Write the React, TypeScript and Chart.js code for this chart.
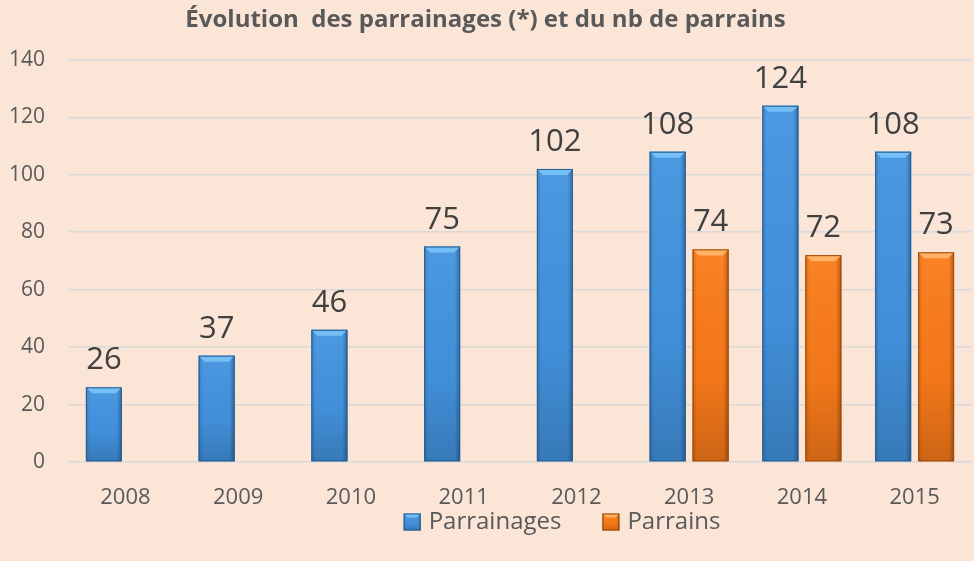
import React, { useEffect, useRef } from "react";
import { Chart, registerables } from "chart.js";

Chart.register(...registerables);

const years = ["2008", "2009", "2010", "2011", "2012", "2013", "2014", "2015"];
const parrainages = [26, 37, 46, 75, 102, 108, 124, 108];
const parrains: (number | null)[] = [null, null, null, null, null, 74, 72, 73];
const seriesNames = ["Parrainages", "Parrains"];
const yMin = 0;
const yMax = 140;
const yStep = 20;
const titleText = "Évolution  des parrainages (*) et du nb de parrains";

const BG = "#FBE5D6";
const TEXT = "#595959";
const FONT = "'Open Sans', 'DejaVu Sans', sans-serif";

const seriesStyle = [
  { fill: "#4394E0", cap: "#74C0F6", border: "#2B5C8E" },
  { fill: "#FA7B1A", cap: "#FFB263", border: "#9E4A0A" },
];

const bgPlugin = {
  id: "bgFill",
  beforeDraw(chart: any) {
    const { ctx, width, height } = chart;
    ctx.save();
    ctx.fillStyle = BG;
    ctx.fillRect(0, 0, width, height);
    ctx.restore();
  },
};

function bevelRect(ctx: any, left: number, top: number, w: number, h: number, st: any, cap: number) {
  const right = left + w;
  const bottom = top + h;
  ctx.fillStyle = st.fill;
  ctx.fillRect(left, top, w, h);
  const g = ctx.createLinearGradient(0, top, 0, bottom);
  g.addColorStop(0, "rgba(255,255,255,0.05)");
  g.addColorStop(0.6, "rgba(0,0,0,0.03)");
  g.addColorStop(1, "rgba(0,0,0,0.18)");
  ctx.fillStyle = g;
  ctx.fillRect(left, top, w, h);
  const hg = ctx.createLinearGradient(left, 0, right, 0);
  hg.addColorStop(0, "rgba(0,0,0,0.15)");
  hg.addColorStop(0.12, "rgba(0,0,0,0)");
  hg.addColorStop(0.85, "rgba(0,0,0,0)");
  hg.addColorStop(1, "rgba(0,0,0,0.28)");
  ctx.fillStyle = hg;
  ctx.fillRect(left, top, w, h);
  const c = Math.min(cap, h / 2);
  ctx.beginPath();
  ctx.moveTo(left, top);
  ctx.lineTo(right, top);
  ctx.lineTo(right - c, top + c);
  ctx.lineTo(left + c, top + c);
  ctx.closePath();
  ctx.fillStyle = st.cap;
  ctx.fill();
  ctx.strokeStyle = st.border;
  ctx.lineWidth = 1;
  ctx.strokeRect(left + 0.5, top + 0.5, w - 1, h - 1);
}

const barDecor = {
  id: "barDecor",
  afterDatasetsDraw(chart: any) {
    const ctx = chart.ctx;
    chart.data.datasets.forEach((ds: any, di: number) => {
      const meta = chart.getDatasetMeta(di);
      const st = seriesStyle[di];
      meta.data.forEach((bar: any, i: number) => {
        const v = ds.data[i];
        if (v == null) return;
        const { x, y, base, width } = bar.getProps(["x", "y", "base", "width"], true);
        ctx.save();
        bevelRect(ctx, x - width / 2, y, width, base - y, st, 6);
        ctx.fillStyle = "#404040";
        ctx.font = `31px ${FONT}`;
        ctx.textAlign = "center";
        ctx.textBaseline = "alphabetic";
        ctx.fillText(String(v), x, y - 18);
        ctx.restore();
      });
    });
  },
};

const legendPlugin = {
  id: "bottomLegend",
  afterDraw(chart: any) {
    const ctx = chart.ctx;
    ctx.save();
    ctx.font = `24px ${FONT}`;
    const box = 17;
    const gapText = 8;
    const gapItem = 41;
    const widths = seriesNames.map((n) => ctx.measureText(n).width);
    const total =
      widths.reduce((a, w) => a + box + gapText + w, 0) + gapItem * (seriesNames.length - 1);
    const cx = (chart.chartArea.left + chart.chartArea.right) / 2 + 42;
    const cy = chart.chartArea.bottom + 60;
    let x = cx - total / 2;
    seriesNames.forEach((n, i) => {
      bevelRect(ctx, x, cy - box / 2, box, box, seriesStyle[i], 4);
      ctx.fillStyle = TEXT;
      ctx.textAlign = "left";
      ctx.textBaseline = "middle";
      ctx.fillText(n, x + box + gapText, cy);
      x += box + gapText + widths[i] + gapItem;
    });
    ctx.restore();
  },
};

export default function App() {
  const ref = useRef<HTMLCanvasElement | null>(null);
  useEffect(() => {
    document.body.style.margin = "0";
    document.body.style.background = BG;
    const canvas = ref.current;
    if (!canvas) return;
    const chart = new Chart(canvas, {
      type: "bar",
      data: {
        labels: years,
        datasets: [
          {
            label: seriesNames[0],
            data: parrainages,
            backgroundColor: seriesStyle[0].fill,
            borderWidth: 0,
            categoryPercentage: 0.762,
            barPercentage: 0.837,
          },
          {
            label: seriesNames[1],
            data: parrains,
            backgroundColor: seriesStyle[1].fill,
            borderWidth: 0,
            categoryPercentage: 0.762,
            barPercentage: 0.837,
          },
        ],
      },
      options: {
        animation: false,
        responsive: false,
        maintainAspectRatio: false,
        devicePixelRatio: 1,
        layout: { padding: { left: 0, right: 3, top: 0, bottom: 0 } },
        scales: {
          x: {
            grid: { display: false },
            border: { display: false },
            ticks: {
              color: TEXT,
              font: { family: FONT, size: 22 },
              padding: 15,
            },
            afterFit(scale: any) {
              scale.height = 99;
            },
          },
          y: {
            min: yMin,
            max: yMax,
            ticks: {
              stepSize: yStep,
              color: TEXT,
              font: { family: FONT, size: 21 },
              padding: 24,
            },
            grid: { color: "#D9D9D9", lineWidth: 1.5, drawTicks: false },
            border: { display: false },
            afterFit(scale: any) {
              scale.width = 69;
            },
          },
        },
        plugins: {
          title: {
            display: true,
            text: titleText,
            color: TEXT,
            font: { family: FONT, size: 24, weight: "bold" },
            padding: { top: 6, bottom: 25 },
          },
          legend: { display: false },
          tooltip: { enabled: false },
        },
      },
      plugins: [bgPlugin, barDecor, legendPlugin],
    } as any);
    return () => chart.destroy();
  }, []);
  return (
    <div style={{ width: 974, height: 561, background: BG }}>
      <canvas ref={ref} width={974} height={561} style={{ display: "block" }} />
    </div>
  );
}
